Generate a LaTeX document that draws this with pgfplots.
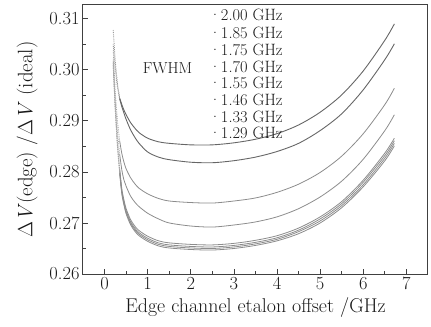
\documentclass[border=0pt]{standalone}
\usepackage{fontspec}
\usepackage{pgfplots}
\pgfplotsset{compat=1.18}
\usepackage{pgfplotstable}
\pgfplotstableread{
x    c1     c2     c3     c4     c5     c6     c7     c8
0.20 0.3078 0.3050 0.3039 0.3022 0.3017 0.3013 0.3010 0.3007
0.25 0.3015 0.3000 0.2954 0.2937 0.2927 0.2923 0.2920 0.2917
0.30 0.2972 0.2965 0.2899 0.2877 0.2857 0.2853 0.2850 0.2847
0.35 0.2945 0.2943 0.2861 0.2835 0.2807 0.2803 0.2800 0.2797
0.40 0.2932 0.2928 0.2836 0.2804 0.2767 0.2763 0.2760 0.2757
0.45 0.2921 0.2915 0.2819 0.2784 0.2745 0.2741 0.2738 0.2735
0.50 0.2912 0.2903 0.2806 0.2772 0.2728 0.2724 0.2721 0.2718
0.60 0.2897 0.2883 0.2789 0.2753 0.2707 0.2703 0.2700 0.2697
0.70 0.2886 0.2868 0.2777 0.2741 0.2694 0.2690 0.2687 0.2684
0.80 0.2877 0.2856 0.2768 0.2732 0.2685 0.2681 0.2678 0.2675
1.00 0.2866 0.2839 0.2757 0.2719 0.2674 0.2670 0.2667 0.2664
1.25 0.2859 0.2829 0.2748 0.2708 0.2665 0.2661 0.2658 0.2655
1.50 0.2856 0.2824 0.2743 0.2700 0.2661 0.2657 0.2654 0.2651
2.00 0.2853 0.2819 0.2740 0.2694 0.2658 0.2654 0.2651 0.2648
2.50 0.2853 0.2818 0.2739 0.2692 0.2657 0.2653 0.2650 0.2647
3.00 0.2857 0.2822 0.2743 0.2696 0.2660 0.2656 0.2653 0.2650
3.50 0.2864 0.2829 0.2749 0.2702 0.2666 0.2662 0.2659 0.2656
4.00 0.2875 0.2840 0.2760 0.2712 0.2675 0.2671 0.2668 0.2665
4.50 0.2892 0.2856 0.2776 0.2728 0.2690 0.2686 0.2683 0.2679
5.00 0.2917 0.2881 0.2799 0.2751 0.2712 0.2708 0.2704 0.2700
5.50 0.2951 0.2914 0.2831 0.2782 0.2742 0.2738 0.2734 0.2730
6.00 0.2998 0.2961 0.2875 0.2825 0.2784 0.2780 0.2775 0.2771
6.50 0.3058 0.3020 0.2932 0.2881 0.2837 0.2832 0.2827 0.2822
6.72 0.3090 0.3051 0.2964 0.2912 0.2866 0.2861 0.2856 0.2851
}\datatable
\begin{document}
\begin{tikzpicture}
\begin{axis}[
  name=ax,
  scale only axis, width=345bp, height=269bp,
  xmin=-0.5, xmax=7.5, ymin=0.26, ymax=0.3127,
  xtick={0,1,2,3,4,5,6,7},
  ytick={0.26,0.27,0.28,0.29,0.30,0.31},
  minor x tick num=1, minor y tick num=1,
  tick align=inside, xtick pos=bottom, ytick pos=left,
  major tick length=5bp, minor tick length=3bp,
  scaled y ticks=false,
  yticklabel style={/pgf/number format/fixed,/pgf/number format/fixed zerofill,/pgf/number format/precision=2},
  /pgf/number format/assume math mode=true,
  ticklabel style={font=\fontsize{18.5}{20}\selectfont, text=black!90},
  axis line style={draw=black!75, line width=1bp},
  every tick/.style={draw=black!75, line width=0.8bp},
  xlabel={Edge channel etalon offset /GHz},
  ylabel={$\Delta$\textit{V}(edge) /$\Delta$\textit{V} (ideal)},
  ylabel shift=5bp,
  xlabel style={font=\fontsize{20}{22}\selectfont, text=black!90},
  ylabel style={font=\fontsize{21}{23}\selectfont, text=black!90},
  clip=false,
]
\pgfplotsinvokeforeach{c1,c2}{
  \addplot[black!60, line width=0.9bp, smooth, restrict x to domain=0.34:7] table[x=x,y=#1]{\datatable};
  \addplot[black!40, line width=0.9bp, densely dotted, restrict x to domain=0.19:0.36] table[x=x,y=#1]{\datatable};
}
\pgfplotsinvokeforeach{c3,c4,c5,c6,c7,c8}{
  \addplot[black!45, line width=0.8bp, smooth, restrict x to domain=0.34:7] table[x=x,y=#1]{\datatable};
  \addplot[black!35, line width=0.8bp, densely dotted, restrict x to domain=0.19:0.36] table[x=x,y=#1]{\datatable};
}
\node[font=\fontsize{16}{18}\selectfont, text=black!90] at (axis cs:1.46,0.3003) {FWHM};
\begin{scope}[every node/.style={anchor=west, inner sep=0pt, font=\fontsize{16.5}{18}\selectfont, text=black!90}]
\node at (axis cs:2.42,0.31078) {\textperiodcentered2.00 GHz};
\node at (axis cs:2.42,0.30725) {\textperiodcentered1.85 GHz};
\node at (axis cs:2.42,0.30392) {\textperiodcentered1.75 GHz};
\node at (axis cs:2.42,0.30059) {\textperiodcentered1.70 GHz};
\node at (axis cs:2.42,0.29745) {\textperiodcentered1.55 GHz};
\node at (axis cs:2.42,0.29412) {\textperiodcentered1.46 GHz};
\node at (axis cs:2.42,0.29078) {\textperiodcentered1.33 GHz};
\node at (axis cs:2.42,0.28765) {\textperiodcentered1.29 GHz};
\end{scope}
\end{axis}
\pgfresetboundingbox
\useasboundingbox ([xshift=-83bp,yshift=-53bp]ax.south west) rectangle ([xshift=3bp,yshift=5bp]ax.north east);
\end{tikzpicture}
\end{document}
